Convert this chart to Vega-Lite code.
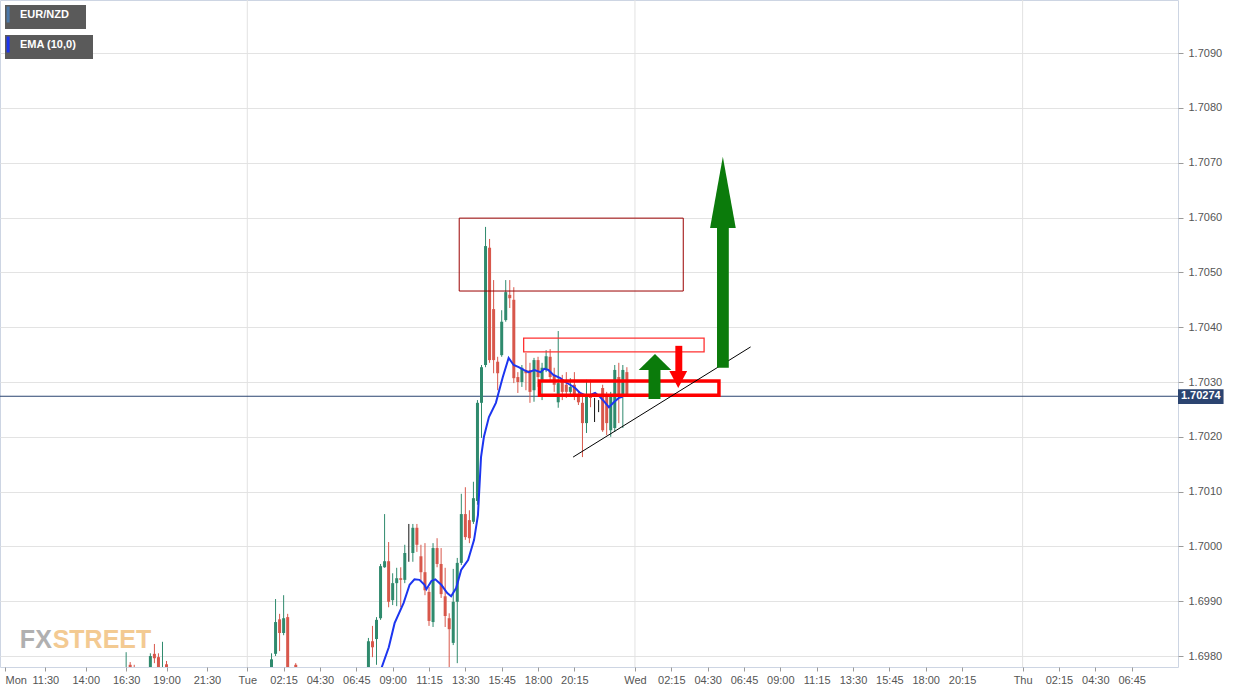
{
"$schema": "https://vega.github.io/schema/vega-lite/v6.json",
"width": 1178, "height": 667,
"autosize": "none",
"padding": {"left": 0, "top": 0, "right": 71, "bottom": 24},
"background": "#ffffff",
"config": {"view": {"fill": "#f7f7f7", "stroke": "#cdd5e3"}, "font": "Liberation Sans",
"legend": {"layout": {"top-left": {"direction": "vertical", "margin": 6}}}},
"datasets": {
"candles": [
{"t":16.5,"o":1.69738,"h":1.69807,"l":1.6972,"c":1.69774},
{"t":16.75,"o":1.69784,"h":1.69789,"l":1.69765,"c":1.69771},
{"t":17,"o":1.6978,"h":1.69784,"l":1.6976,"c":1.69765},
{"t":18,"o":1.69738,"h":1.69805,"l":1.69729,"c":1.698},
{"t":18.25,"o":1.69804,"h":1.69822,"l":1.69787,"c":1.69796},
{"t":18.5,"o":1.69798,"h":1.69805,"l":1.69729,"c":1.69738},
{"t":18.75,"o":1.69753,"h":1.69826,"l":1.69742,"c":1.69774},
{"t":19,"o":1.69785,"h":1.69791,"l":1.69747,"c":1.69756},
{"t":25.5,"o":1.69738,"h":1.69805,"l":1.69729,"c":1.69794},
{"t":25.75,"o":1.69804,"h":1.69904,"l":1.698,"c":1.69862},
{"t":26,"o":1.69867,"h":1.69877,"l":1.69809,"c":1.69842},
{"t":26.25,"o":1.69842,"h":1.69911,"l":1.69838,"c":1.69869},
{"t":26.5,"o":1.69871,"h":1.69877,"l":1.6972,"c":1.69738},
{"t":27,"o":1.69784,"h":1.69787,"l":1.6976,"c":1.69765},
{"t":31.5,"o":1.69738,"h":1.69833,"l":1.6972,"c":1.69827},
{"t":31.75,"o":1.69827,"h":1.69855,"l":1.69798,"c":1.69816},
{"t":32,"o":1.69831,"h":1.69871,"l":1.69784,"c":1.69866},
{"t":32.25,"o":1.69869,"h":1.69968,"l":1.69866,"c":1.69964},
{"t":32.5,"o":1.69962,"h":1.70059,"l":1.69961,"c":1.69973},
{"t":32.75,"o":1.69973,"h":1.70008,"l":1.69889,"c":1.69899},
{"t":33,"o":1.69902,"h":1.69951,"l":1.69893,"c":1.69933},
{"t":33.25,"o":1.69933,"h":1.69961,"l":1.69891,"c":1.69942},
{"t":33.5,"o":1.69942,"h":1.69962,"l":1.69889,"c":1.69939},
{"t":33.75,"o":1.69939,"h":1.70003,"l":1.69933,"c":1.69988},
{"t":34,"o":1.69988,"h":1.70041,"l":1.69972,"c":1.69988},
{"t":34.25,"o":1.69988,"h":1.70041,"l":1.69972,"c":1.70034},
{"t":34.5,"o":1.70034,"h":1.70041,"l":1.6999,"c":1.70003},
{"t":34.75,"o":1.69982,"h":1.70003,"l":1.69937,"c":1.69953},
{"t":35,"o":1.69953,"h":1.70006,"l":1.69911,"c":1.6992},
{"t":35.25,"o":1.69917,"h":1.69926,"l":1.69855,"c":1.69864},
{"t":35.5,"o":1.69862,"h":1.70006,"l":1.69853,"c":1.69997},
{"t":35.75,"o":1.69997,"h":1.70015,"l":1.69962,"c":1.69968},
{"t":36,"o":1.69968,"h":1.69997,"l":1.69906,"c":1.69913},
{"t":36.25,"o":1.69909,"h":1.69961,"l":1.69853,"c":1.69873},
{"t":36.5,"o":1.69869,"h":1.69878,"l":1.69738,"c":1.69849},
{"t":36.75,"o":1.69824,"h":1.69959,"l":1.6982,"c":1.69899},
{"t":37,"o":1.69899,"h":1.69979,"l":1.69787,"c":1.6997},
{"t":37.25,"o":1.6997,"h":1.70096,"l":1.69966,"c":1.70059},
{"t":37.5,"o":1.70059,"h":1.70108,"l":1.70012,"c":1.70017},
{"t":37.75,"o":1.70048,"h":1.70066,"l":1.70006,"c":1.70015},
{"t":38,"o":1.70045,"h":1.70118,"l":1.70041,"c":1.70088},
{"t":38.25,"o":1.70083,"h":1.70267,"l":1.70076,"c":1.70262},
{"t":38.5,"o":1.70262,"h":1.70331,"l":1.70198,"c":1.70327},
{"t":38.75,"o":1.70331,"h":1.70583,"l":1.70327,"c":1.70548},
{"t":39,"o":1.70545,"h":1.70561,"l":1.70335,"c":1.7034},
{"t":39.25,"o":1.70433,"h":1.70486,"l":1.70316,"c":1.7034},
{"t":39.5,"o":1.70337,"h":1.70346,"l":1.70285,"c":1.70316},
{"t":39.75,"o":1.70349,"h":1.70431,"l":1.70346,"c":1.7041},
{"t":40,"o":1.70413,"h":1.70486,"l":1.7041,"c":1.70464},
{"t":40.25,"o":1.70459,"h":1.70486,"l":1.70435,"c":1.70453},
{"t":40.5,"o":1.7045,"h":1.70473,"l":1.70298,"c":1.70307},
{"t":40.75,"o":1.70309,"h":1.70318,"l":1.7028,"c":1.703},
{"t":41,"o":1.703,"h":1.70331,"l":1.70291,"c":1.70326},
{"t":41.25,"o":1.70322,"h":1.70353,"l":1.70285,"c":1.70316},
{"t":41.5,"o":1.70322,"h":1.70335,"l":1.70262,"c":1.70282},
{"t":41.75,"o":1.70285,"h":1.70344,"l":1.70264,"c":1.7034},
{"t":42,"o":1.7034,"h":1.70346,"l":1.70291,"c":1.70309},
{"t":42.25,"o":1.70304,"h":1.70335,"l":1.70267,"c":1.70326},
{"t":42.5,"o":1.70322,"h":1.70358,"l":1.70318,"c":1.70347},
{"t":42.75,"o":1.70346,"h":1.7036,"l":1.70304,"c":1.70309},
{"t":43,"o":1.70313,"h":1.70326,"l":1.70282,"c":1.70295},
{"t":43.25,"o":1.70263,"h":1.70393,"l":1.70253,"c":1.70298},
{"t":43.5,"o":1.703,"h":1.70313,"l":1.70267,"c":1.70282},
{"t":43.75,"o":1.70295,"h":1.70318,"l":1.70271,"c":1.70282},
{"t":44,"o":1.70282,"h":1.70307,"l":1.70273,"c":1.70291},
{"t":44.25,"o":1.70295,"h":1.70318,"l":1.70267,"c":1.70276},
{"t":44.5,"o":1.70276,"h":1.70282,"l":1.70258,"c":1.70263},
{"t":44.75,"o":1.70262,"h":1.70276,"l":1.70163,"c":1.70225},
{"t":45,"o":1.70225,"h":1.70304,"l":1.70207,"c":1.70273},
{"t":45.25,"o":1.70276,"h":1.70304,"l":1.70254,"c":1.70271},
{"t":45.5,"o":1.70267,"h":1.70271,"l":1.70227,"c":1.70267},
{"t":45.75,"o":1.70263,"h":1.70267,"l":1.70245,"c":1.70263},
{"t":46,"o":1.70289,"h":1.70295,"l":1.70209,"c":1.70212},
{"t":46.25,"o":1.70273,"h":1.70282,"l":1.70203,"c":1.70225},
{"t":46.5,"o":1.70212,"h":1.70282,"l":1.702,"c":1.70273},
{"t":46.75,"o":1.70216,"h":1.70331,"l":1.70209,"c":1.70322},
{"t":47,"o":1.70309,"h":1.70335,"l":1.70225,"c":1.70276},
{"t":47.25,"o":1.70273,"h":1.70331,"l":1.70216,"c":1.70322},
{"t":47.5,"o":1.70318,"h":1.70327,"l":1.70273,"c":1.70276}
],
"ema": [
{"t":32.08,"v":1.69738},{"t":32.33,"v":1.6978},{"t":32.76,"v":1.69816},{"t":33.12,"v":1.6986},
{"t":33.68,"v":1.69897},{"t":34.05,"v":1.6993},{"t":34.35,"v":1.6994},{"t":34.66,"v":1.69939},
{"t":34.97,"v":1.6993},{"t":35.09,"v":1.69922},{"t":35.4,"v":1.69937},{"t":35.64,"v":1.6994},
{"t":36.01,"v":1.6993},{"t":36.38,"v":1.69915},{"t":36.62,"v":1.69909},{"t":36.93,"v":1.69924},
{"t":37.24,"v":1.69957},{"t":37.67,"v":1.69975},{"t":38.04,"v":1.70012},{"t":38.28,"v":1.70057},
{"t":38.47,"v":1.70163},{"t":38.65,"v":1.702},{"t":38.96,"v":1.70236},{"t":39.39,"v":1.70262},
{"t":39.69,"v":1.70295},{"t":39.82,"v":1.70309},{"t":40.18,"v":1.70344},{"t":40.49,"v":1.70331},
{"t":40.8,"v":1.70327},{"t":41.11,"v":1.70322},{"t":41.41,"v":1.70318},{"t":41.78,"v":1.70322},
{"t":42.15,"v":1.70318},{"t":42.39,"v":1.70324},{"t":42.64,"v":1.70322},{"t":42.95,"v":1.70313},
{"t":43.38,"v":1.70307},{"t":43.68,"v":1.703},{"t":43.99,"v":1.70295},{"t":44.3,"v":1.70289},
{"t":44.6,"v":1.7028},{"t":44.91,"v":1.70276},{"t":45.22,"v":1.70276},{"t":45.53,"v":1.7028},
{"t":45.83,"v":1.70273},{"t":46.14,"v":1.70263},{"t":46.39,"v":1.70254},{"t":46.69,"v":1.70263},
{"t":47.0,"v":1.70271},{"t":47.24,"v":1.70273}
],
"shafts": [
{"kind":"up","t1":53.08,"t2":53.81,"p1":1.70326,"p2":1.70581},
{"kind":"up","t1":48.84,"t2":49.58,"p1":1.70269,"p2":1.70322},
{"kind":"down","t1":50.5,"t2":50.93,"p1":1.7032,"p2":1.70366}
],
"heads": [
{"id":"a","kind":"up","t":52.65,"p":1.70581,"base":1.70581},
{"id":"a","kind":"up","t":53.44,"p":1.70711,"base":1.70581},
{"id":"a","kind":"up","t":54.24,"p":1.70581,"base":1.70581},
{"id":"b","kind":"up","t":48.23,"p":1.70322,"base":1.70322},
{"id":"b","kind":"up","t":49.24,"p":1.70351,"base":1.70322},
{"id":"b","kind":"up","t":50.25,"p":1.70322,"base":1.70322},
{"id":"c","kind":"down","t":50.13,"p":1.7032,"base":1.7032},
{"id":"c","kind":"down","t":50.68,"p":1.70289,"base":1.7032},
{"id":"c","kind":"down","t":51.23,"p":1.7032,"base":1.7032}
]
},
"layer": [
{
"data": {"values": [{"t":24},{"t":48},{"t":72}]},
"mark": {"type": "rule", "color": "#e2e2e2", "strokeWidth": 1},
"encoding": {
"x": {"field": "t", "type": "quantitative"}
}
},
{
"data": {"values": [{"p": 1.70274}]},
"mark": {"type": "rule", "color": "#2b4470", "strokeWidth": 1},
"encoding": {
"y": {"field": "p", "type": "quantitative"}
}
},
{
"data": {"name": "candles"},
"mark": {"type": "rule", "strokeWidth": 1, "clip": true},
"encoding": {
"x": {"field": "t", "type": "quantitative", "scale": {"domain": [9, 81.31], "nice": false, "zero": false},
"axis": {"orient": "bottom", "title": null, "grid": false, "domain": false,
"values": [9,11.5,14,16.5,19,21.5,24,26.25,28.5,30.75,33,35.25,37.5,39.75,42,44.25,48,50.25,52.5,54.75,57,59.25,61.5,63.75,66,68.25,72,74.25,76.5,78.75],
"labelExpr": "datum.value==9?'Mon':datum.value==24?'Tue':datum.value==48?'Wed':datum.value==72?'Thu':format(floor(datum.value%24),'02d')+':'+format(round((datum.value%1)*60),'02d')",
"labelAlign": {"condition": {"test": "datum.value == 9", "value": "left"}, "value": "center"},
"tickColor": "#9a9a9a", "tickSize": 4, "labelColor": "#555555", "labelFontSize": 11, "labelPadding": 3, "labelFlush": false, "labelBound": false, "labelOverlap": false}},
"y": {"field": "l", "type": "quantitative", "scale": {"domain": [1.6978, 1.70997], "nice": false, "zero": false},
"axis": {"orient": "right", "title": null, "grid": true, "gridColor": "#e3e3e3", "domain": false,
"values": [1.698,1.699,1.7,1.701,1.702,1.703,1.704,1.705,1.706,1.707,1.708,1.709], "format": ".4f",
"tickColor": "#9a9a9a", "tickSize": 5, "labelColor": "#555555", "labelFontSize": 11, "labelPadding": 5}},
"y2": {"field": "h"},
"color": {"condition": [{"test": "datum.c > datum.o", "value": "#2f8a6d"}, {"test": "datum.c < datum.o", "value": "#d8574b"}], "value": "#111111"}
}
},
{
"data": {"name": "candles"},
"mark": {"type": "bar", "size": 3, "clip": true},
"encoding": {
"x": {"field": "t", "type": "quantitative"},
"y": {"field": "o", "type": "quantitative"},
"y2": {"field": "c"},
"color": {"condition": [{"test": "datum.c > datum.o", "value": "#2f8a6d"}, {"test": "datum.c < datum.o", "value": "#d8574b"}], "value": "#111111"}
}
},
{
"data": {"values": [{"s": "EUR/NZD"}]},
"mark": {"type": "point", "opacity": 0},
"encoding": {
"fill": {"field": "s", "type": "nominal", "scale": {"range": ["#2f8a6d"]},
"legend": {"orient": "top-left", "offset": 5, "title": null, "fillColor": "#5a5a5a", "padding": 0,
"labelColor": "#ffffff", "labelFontWeight": "bold", "labelFontSize": 11, "labelOffset": -4,
"symbolType": "M-0.8,-1L-0.8,1", "symbolSize": 256, "symbolStrokeWidth": 3,
"labelExpr": "datum.label + '\u2002\u2002\u2002\u200b'",
"encode": {"symbols": {"update": {"stroke": {"value": "#2f8a6d"}, "fill": {"value": "transparent"}, "strokeWidth": {"value": 3}, "opacity": {"value": 1}}}}}}
}
},
{
"data": {"name": "ema"},
"mark": {"type": "line", "strokeWidth": 2, "clip": true},
"encoding": {
"x": {"field": "t", "type": "quantitative"},
"y": {"field": "v", "type": "quantitative"},
"stroke": {"datum": "EMA (10,0)", "type": "nominal", "scale": {"range": ["#1c35f0"]},
"legend": {"orient": "top-left", "offset": 5, "title": null, "fillColor": "#5a5a5a", "padding": 0,
"labelColor": "#ffffff", "labelFontWeight": "bold", "labelFontSize": 11, "labelOffset": -4,
"symbolType": "M-0.8,-1L-0.8,1", "symbolSize": 256, "symbolStrokeWidth": 3,
"labelExpr": "datum.label + '\u2002\u2002\u2002\u200b'",
"encode": {"symbols": {"update": {"stroke": {"value": "#1c35f0"}, "fill": {"value": "transparent"}, "strokeWidth": {"value": 3}}}}}}
}
},
{
"data": {"values": [{"t1": 37.12, "t2": 50.99, "p1": 1.70466, "p2": 1.70599}]},
"mark": {"type": "rect", "fill": null, "fillOpacity": 0, "stroke": "#9b0000", "strokeWidth": 1},
"encoding": {"x": {"field": "t1", "type": "quantitative"}, "x2": {"field": "t2"}, "y": {"field": "p1", "type": "quantitative"}, "y2": {"field": "p2"}}
},
{
"data": {"values": [{"t1": 41.11, "t2": 52.28, "p1": 1.70355, "p2": 1.7038}]},
"mark": {"type": "rect", "fill": null, "fillOpacity": 0, "stroke": "#ff3030", "strokeWidth": 1.3},
"encoding": {"x": {"field": "t1", "type": "quantitative"}, "x2": {"field": "t2"}, "y": {"field": "p1", "type": "quantitative"}, "y2": {"field": "p2"}}
},
{
"data": {"values": [{"t1": 42.09, "t2": 53.2, "p1": 1.70276, "p2": 1.70302}]},
"mark": {"type": "rect", "fill": null, "fillOpacity": 0, "stroke": "#ff0000", "strokeWidth": 3.5},
"encoding": {"x": {"field": "t1", "type": "quantitative"}, "x2": {"field": "t2"}, "y": {"field": "p1", "type": "quantitative"}, "y2": {"field": "p2"}}
},
{
"data": {"values": [{"t1": 44.17, "t2": 55.16, "p1": 1.70163, "p2": 1.70364}]},
"mark": {"type": "rule", "color": "#000000", "strokeWidth": 1},
"encoding": {"x": {"field": "t1", "type": "quantitative"}, "x2": {"field": "t2"}, "y": {"field": "p1", "type": "quantitative"}, "y2": {"field": "p2"}}
},
{
"data": {"name": "shafts"},
"mark": {"type": "rect"},
"encoding": {"x": {"field": "t1", "type": "quantitative"}, "x2": {"field": "t2"}, "y": {"field": "p1", "type": "quantitative"}, "y2": {"field": "p2"},
"color": {"field": "kind", "type": "nominal", "scale": {"domain": ["up", "down"], "range": ["#0b7b0b", "#ff0000"]}, "legend": null}}
},
{
"data": {"name": "heads"},
"mark": {"type": "area", "interpolate": "linear"},
"encoding": {"x": {"field": "t", "type": "quantitative"}, "y": {"field": "p", "type": "quantitative"}, "y2": {"field": "base"},
"detail": {"field": "id", "type": "nominal"},
"color": {"field": "kind", "type": "nominal", "scale": {"domain": ["up", "down"], "range": ["#0b7b0b", "#ff0000"]}, "legend": null}}
},
{
"data": {"values": [{"lab": "1.70274", "p": 1.70274, "p1": 1.7026, "p2": 1.70287, "t1": 81.62, "t2": 84.44, "tc": 83.03}]},
"layer": [
{"mark": {"type": "rect", "fill": "#2b4470", "clip": false},
"encoding": {"x": {"field": "t1", "type": "quantitative"}, "x2": {"field": "t2"}, "y": {"field": "p1", "type": "quantitative"}, "y2": {"field": "p2"}}},
{"mark": {"type": "text", "color": "#ffffff", "fontWeight": "bold", "fontSize": 11, "align": "center", "baseline": "middle", "clip": false},
"encoding": {"x": {"field": "tc", "type": "quantitative"}, "y": {"field": "p", "type": "quantitative"}, "text": {"field": "lab"}}}
]
},
{
"data": {"values": [{"w": "FX", "t": 9.92, "p": 1.69815}, {"w": "STREET", "t": 11.95, "p": 1.69815}]},
"mark": {"type": "text", "font": "Liberation Sans", "fontWeight": "bold", "fontSize": 25, "align": "left", "baseline": "alphabetic", "opacity": 0.85},
"encoding": {"x": {"field": "t", "type": "quantitative"}, "y": {"field": "p", "type": "quantitative"}, "text": {"field": "w"},
"color": {"condition": {"test": "datum.w == 'FX'", "value": "#a3a3a3"}, "value": "#f2c17f"}}
}
]
}
